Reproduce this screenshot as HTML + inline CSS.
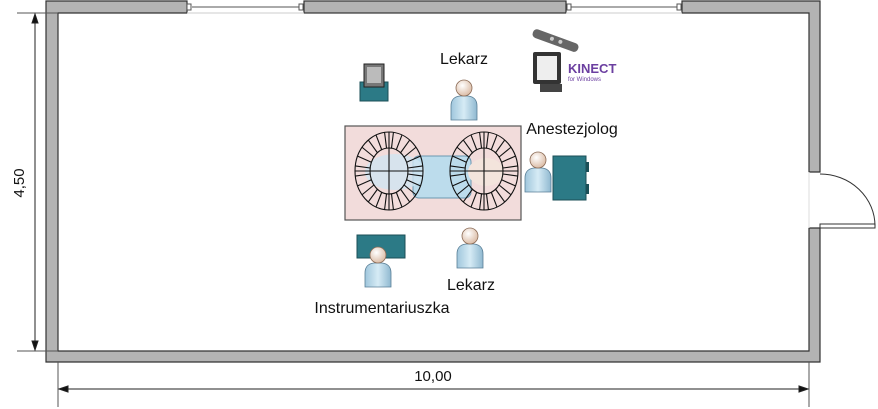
<!DOCTYPE html>
<html><head><meta charset="utf-8"><style>
body{margin:0;background:#fff;width:878px;height:409px;overflow:hidden}
svg{display:block}
text{font-family:"Liberation Sans",sans-serif;fill:#111}
</style></head><body>
<svg id="s" width="878" height="409" viewBox="0 0 878 409" xmlns="http://www.w3.org/2000/svg">
<defs>
<linearGradient id="pg" x1="0" y1="0" x2="1" y2="0"><stop offset="0" stop-color="#9fc6dc"/><stop offset="0.5" stop-color="#d6ebf5"/><stop offset="1" stop-color="#8fb8d0"/></linearGradient>
<radialGradient id="hg" cx="0.4" cy="0.35" r="0.7"><stop offset="0" stop-color="#fff"/><stop offset="1" stop-color="#d9b8a0"/></radialGradient>
<g id="person">
<path d="M-13,26 L-13,12 Q-13,3 -4,2 L4,2 Q13,3 13,12 L13,26 Z" fill="url(#pg)" stroke="#5a7f96" stroke-width="0.8"/>
<circle cx="0" cy="-6" r="8" fill="url(#hg)" stroke="#8a6a55" stroke-width="0.8"/>
</g>
</defs>
<g fill="#b3b3b3" stroke="#333" stroke-width="1.2">
<path d="M46,1 H187 V13 H58 V351 H809 V228 H820 V362 H46 Z"/>
<rect x="304" y="1" width="262" height="12"/>
<path d="M682,1 H820 V172 H809 V13 H682 Z"/>
</g>
<g stroke="#555" stroke-width="1">
<line x1="192" y1="7" x2="300" y2="7"/>
<line x1="571" y1="7" x2="678" y2="7"/>
<line x1="187" y1="13" x2="304" y2="13" stroke="#ccc"/>
<line x1="566" y1="13" x2="682" y2="13" stroke="#ccc"/>
<rect x="187" y="4" width="4" height="6" fill="#fff"/><rect x="299" y="4" width="4" height="6" fill="#fff"/>
<rect x="567" y="4" width="4" height="6" fill="#fff"/><rect x="677" y="4" width="4" height="6" fill="#fff"/>
</g>
<g stroke="#333" fill="none" stroke-width="1">
<line x1="809" y1="172" x2="809" y2="228" stroke="#ddd"/>
<rect x="820" y="224" width="55" height="4" fill="#fff"/>
<path d="M820,174 A55,52 0 0 1 875,226"/>
</g>
<g stroke="#222" stroke-width="1" fill="#111">
<line x1="17" y1="13" x2="58" y2="13" stroke="#555"/>
<line x1="17" y1="351" x2="58" y2="351" stroke="#555"/>
<line x1="35" y1="14" x2="35" y2="350"/>
<path d="M35,14 l-3,9 h6 z"/><path d="M35,350 l-3,-9 h6 z"/>
<line x1="58" y1="362" x2="58" y2="407" stroke="#555"/>
<line x1="809" y1="362" x2="809" y2="407" stroke="#555"/>
<line x1="59" y1="389" x2="808" y2="389"/>
<path d="M59,389 l9,-3 v6 z"/><path d="M808,389 l-9,-3 v6 z"/>
</g>
<text x="433" y="381" font-size="15" text-anchor="middle">10,00</text>
<text transform="translate(24,183) rotate(-90)" font-size="15" text-anchor="middle">4,50</text>
<rect x="345" y="126" width="176" height="94" fill="#f2dcdb" stroke="#555" stroke-width="1.2"/>
<rect x="413" y="156" width="58" height="42" rx="6" fill="#bcdcec" stroke="#6a97b0"/>
<ellipse cx="395" cy="172" rx="30" ry="18" fill="#cfe5f1" opacity="0.8"/>
<ellipse cx="486" cy="172" rx="18" ry="14" fill="#f3e4dc"/>
<g id="wheels" stroke="#111" stroke-width="1.1" fill="none"></g>
<use href="#person" x="464" y="94"/>
<use href="#person" x="538" y="166"/>
<rect x="357" y="235" width="48" height="23" fill="#2c7a86" stroke="#1b4f57"/>
<use href="#person" x="378" y="261"/>
<use href="#person" x="470" y="242"/>
<text x="464" y="64" font-size="16" text-anchor="middle">Lekarz</text>
<text x="572" y="134" font-size="16" text-anchor="middle">Anestezjolog</text>
<text x="471" y="290" font-size="16" text-anchor="middle">Lekarz</text>
<text x="382" y="313" font-size="16" text-anchor="middle">Instrumentariuszka</text>
<rect x="553" y="156" width="33" height="44" fill="#2c7a86" stroke="#1b4f57"/>
<rect x="586" y="162" width="3" height="10" fill="#1b4f57"/><rect x="586" y="184" width="3" height="10" fill="#1b4f57"/>
<rect x="360" y="82" width="28" height="19" fill="#2c7a86" stroke="#1b4f57"/>
<rect x="364" y="64" width="20" height="23" fill="#777" stroke="#222"/>
<rect x="367" y="67" width="14" height="16" fill="#bbb"/>
<g transform="rotate(20 555 42)"><rect x="531" y="36" width="48" height="9" rx="4" fill="#666"/><circle cx="551" cy="40" r="2" fill="#ccc"/><circle cx="560" cy="40" r="2" fill="#ccc"/></g>
<rect x="533" y="52" width="28" height="32" rx="2" fill="#333"/>
<rect x="537" y="56" width="20" height="24" fill="#eee"/>
<rect x="540" y="84" width="22" height="8" fill="#444"/>
<text x="568" y="73" font-size="13" font-weight="bold" style="fill:#6b3fa0">KINECT</text>
<text x="568" y="81" font-size="6" style="fill:#6b3fa0">for Windows</text>
<script>
var g=document.getElementById('wheels'),ns='http://www.w3.org/2000/svg';
function add(t,a){var e=document.createElementNS(ns,t);for(var k in a)e.setAttribute(k,a[k]);g.appendChild(e);}
[[389,171],[484,171]].forEach(function(c){
 add('ellipse',{cx:c[0],cy:c[1],rx:34,ry:39});
 add('ellipse',{cx:c[0],cy:c[1],rx:19,ry:23});
 for(var i=0;i<24;i++){var a=(i+0.5)*Math.PI*2/24;add('line',{x1:c[0]+19*Math.cos(a),y1:c[1]+23*Math.sin(a),x2:c[0]+34*Math.cos(a),y2:c[1]+39*Math.sin(a)});}
 add('line',{x1:c[0]-34,y1:c[1],x2:c[0]+34,y2:c[1]});
 add('line',{x1:c[0],y1:c[1]-39,x2:c[0],y2:c[1]+39});
});
</script>
</svg>
</body></html>
